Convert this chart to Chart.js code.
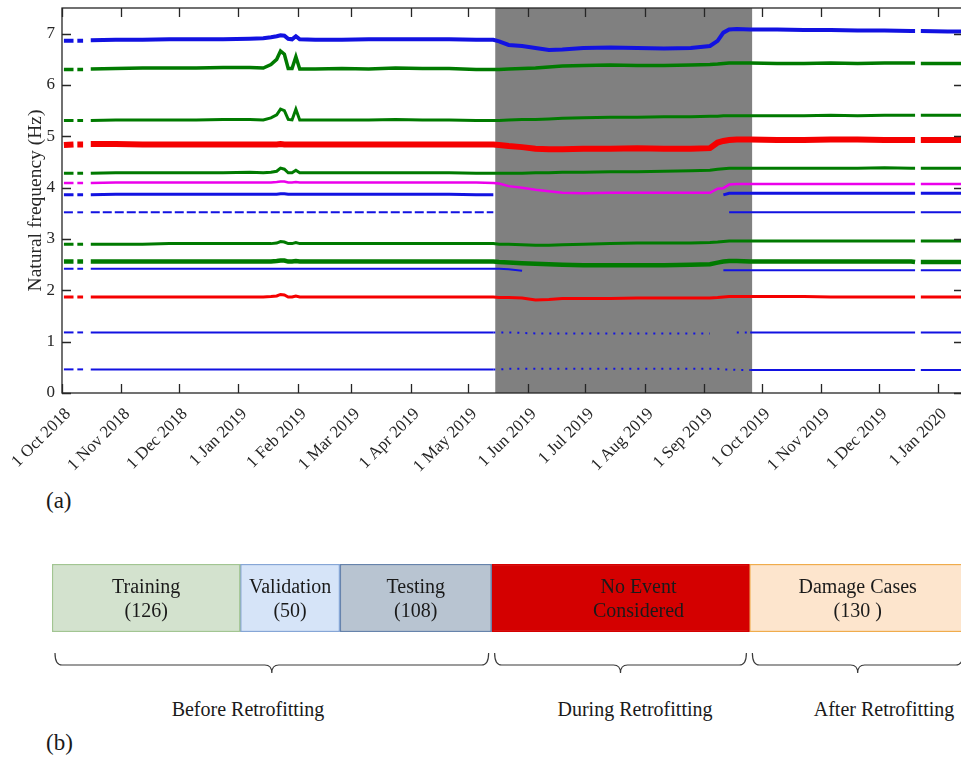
<!DOCTYPE html>
<html><head><meta charset="utf-8">
<script src="https://cdn.jsdelivr.net/npm/chart.js@4.4.1/dist/chart.umd.min.js"></script>
<style>
html,body{margin:0;padding:0;background:#fff;overflow:hidden;width:961px;height:757px;position:relative;}
#cA{position:absolute;left:0;top:0;}
#cB{position:absolute;left:0;top:560px;}
.lbl{position:absolute;font-family:"Liberation Serif","Times New Roman",serif;color:#1a1a1a;white-space:nowrap;line-height:1;}
.ph{font-size:20px;transform:translateX(-50%);top:699px;}
</style></head><body>
<canvas id="cA" width="966" height="482"></canvas>
<canvas id="cB" width="966" height="120"></canvas>
<div class="lbl" style="left:46px;top:489px;font-size:23px">(a)</div>
<div class="lbl" style="left:46px;top:731px;font-size:23px">(b)</div>
<div class="lbl ph" style="left:248px">Before Retrofitting</div>
<div class="lbl ph" style="left:635px">During Retrofitting</div>
<div class="lbl ph" style="left:884px">After Retrofitting</div>
<script>
// ---------- data: part (a) ----------
const sampleDates = ['2018-10-02','2018-10-07','2018-10-08','2018-10-09','2018-10-12','2018-10-13','2018-10-16',
 '2018-10-29','2018-11-12','2018-11-26','2018-12-10','2018-12-24','2019-01-07','2019-01-14',
 '2019-01-18','2019-01-21','2019-01-23','2019-01-25','2019-01-27','2019-01-29','2019-01-31','2019-02-02',
 '2019-02-10','2019-02-24','2019-03-10','2019-03-24','2019-04-07','2019-04-21','2019-05-05','2019-05-14',
 '2019-05-17','2019-05-22','2019-05-29','2019-06-05','2019-06-12','2019-06-19','2019-06-30','2019-07-14','2019-07-28','2019-08-11','2019-08-25',
 '2019-09-04','2019-09-08','2019-09-11','2019-09-14','2019-09-18','2019-09-25',
 '2019-10-09','2019-10-23','2019-11-06','2019-11-20','2019-12-04','2019-12-18','2019-12-20','2019-12-21','2019-12-23','2020-01-06','2020-01-13'];

const blueTop = [6.86,6.86,null,6.86,6.86,null,6.87, 6.88,6.88,6.89,6.89,6.89,6.90,6.91, 6.93,6.95,6.97,6.96,6.90,6.89,6.95,6.89, 6.88,6.88,6.89,6.89,6.89,6.89,6.88,6.88, 6.85,6.78,6.76,6.72,6.68,6.69,6.72,6.73,6.72,6.71,6.72, 6.76,6.86,7.02,7.08,7.09,7.08, 7.08,7.07,7.07,7.06,7.06,7.05,7.05,null,7.05,7.04,7.04];
const green63 = [6.30,6.30,null,6.30,6.30,null,6.31, 6.32,6.33,6.33,6.33,6.34,6.34,6.33, 6.40,6.50,6.66,6.60,6.32,6.32,6.55,6.31, 6.31,6.32,6.31,6.33,6.32,6.32,6.30,6.30, 6.30,6.31,6.32,6.33,6.35,6.37,6.38,6.39,6.38,6.38,6.39, 6.40,6.41,6.42,6.43,6.43,6.43, 6.42,6.42,6.43,6.42,6.43,6.43,6.43,null,6.42,6.42,6.42];
const green53 = [5.31,5.31,null,5.31,5.31,null,5.31, 5.32,5.32,5.32,5.32,5.33,5.33,5.32, 5.36,5.42,5.53,5.50,5.33,5.32,5.53,5.32, 5.32,5.32,5.32,5.33,5.32,5.32,5.31,5.31, 5.31,5.32,5.33,5.33,5.34,5.35,5.36,5.37,5.37,5.38,5.38, 5.39,5.39,5.40,5.40,5.40,5.40, 5.40,5.40,5.41,5.40,5.41,5.41,5.41,null,5.41,5.41,5.41];
const red48 = [4.83,4.84,null,4.84,4.84,null,4.85, 4.85,4.84,4.84,4.84,4.84,4.84,4.84, 4.84,4.84,4.85,4.84,4.84,4.84,4.84,4.84, 4.84,4.84,4.84,4.84,4.84,4.84,4.84,4.84, 4.83,4.81,4.79,4.76,4.75,4.75,4.76,4.76,4.77,4.76,4.76, 4.77,4.88,4.91,4.93,4.94,4.94, 4.93,4.93,4.94,4.94,4.93,4.93,4.93,null,4.93,4.93,4.93];
const green43 = [4.28,4.28,null,4.28,4.28,null,4.28, 4.29,4.29,4.29,4.29,4.29,4.30,4.29, 4.30,4.32,4.38,4.36,4.29,4.29,4.34,4.29, 4.29,4.29,4.29,4.29,4.29,4.29,4.28,4.28, 4.28,4.28,4.28,4.29,4.29,4.30,4.30,4.31,4.31,4.32,4.33, 4.34,4.36,4.37,4.38,4.38,4.38, 4.38,4.38,4.38,4.38,4.39,4.38,4.38,null,4.38,4.38,4.38];
const magenta41 = [4.09,4.09,null,4.09,4.09,null,4.09, 4.10,4.10,4.10,4.10,4.10,4.10,4.10, 4.10,4.11,4.12,4.12,4.10,4.10,4.11,4.10, 4.10,4.10,4.10,4.10,4.10,4.10,4.10,4.09, 4.08,4.03,4.00,3.96,3.93,3.90,3.89,3.90,3.90,3.90,3.90, 3.90,3.98,3.99,4.06,4.07,4.07, 4.07,4.07,4.07,4.07,4.07,4.07,4.07,null,4.07,4.07,4.07];
const blue39 = [3.86,3.86,null,3.86,3.86,null,3.86, 3.87,3.87,3.87,3.87,3.87,3.87,3.87, 3.87,3.87,3.88,3.88,3.87,3.87,3.87,3.87, 3.87,3.87,3.87,3.87,3.87,3.87,3.86,3.86, null,null,null,null,null,null,null,null,null,null,null, null,null,3.86,3.89,3.89,3.89, 3.89,3.89,3.89,3.89,3.89,3.89,3.89,null,3.89,3.89,3.89];
const blue35 = [3.52,3.52,null,3.52,3.52,null,3.52, 3.52,3.52,3.52,3.52,3.52,3.52,3.52, 3.52,3.52,3.52,3.52,3.52,3.52,3.52,3.52, 3.52,3.52,3.52,3.52,3.52,3.52,3.52,3.52, null,null,null,null,null,null,null,null,null,null,null, null,null,null,3.52,3.52,3.52, 3.52,3.52,3.52,3.52,3.52,3.52,3.52,null,3.52,3.52,3.52];
const green29 = [2.90,2.90,null,2.90,2.90,null,2.90, 2.90,2.90,2.91,2.91,2.91,2.91,2.91, 2.91,2.92,2.95,2.94,2.91,2.91,2.93,2.91, 2.91,2.91,2.91,2.91,2.91,2.91,2.91,2.91, 2.90,2.90,2.89,2.88,2.88,2.89,2.90,2.91,2.92,2.92,2.92, 2.93,2.94,2.95,2.96,2.96,2.96, 2.96,2.96,2.96,2.96,2.96,2.96,2.96,null,2.96,2.96,2.96];
const green26 = [2.56,2.56,null,2.56,2.56,null,2.56, 2.56,2.56,2.56,2.56,2.56,2.56,2.56, 2.56,2.57,2.58,2.58,2.56,2.56,2.57,2.56, 2.56,2.56,2.56,2.56,2.56,2.56,2.56,2.56, 2.55,2.54,2.53,2.52,2.51,2.50,2.49,2.49,2.49,2.49,2.50, 2.51,2.54,2.56,2.57,2.57,2.56, 2.56,2.56,2.56,2.56,2.56,2.56,2.55,null,2.55,2.55,2.55];
const blue24 = [2.42,2.42,null,2.42,2.42,null,2.42, 2.42,2.42,2.42,2.42,2.42,2.42,2.42, 2.42,2.42,2.42,2.42,2.42,2.42,2.42,2.42, 2.42,2.42,2.42,2.42,2.42,2.42,2.42,2.42, 2.42,2.41,2.38,null,null,null,null,null,null,null,null, null,null,2.39,2.39,2.39,2.39, 2.39,2.39,2.39,2.39,2.39,2.39,2.39,null,2.39,2.39,2.39];
const red19 = [1.87,1.87,null,1.87,1.87,null,1.87, 1.87,1.87,1.87,1.87,1.87,1.87,1.87, 1.88,1.89,1.92,1.91,1.87,1.87,1.89,1.87, 1.87,1.87,1.87,1.87,1.87,1.87,1.87,1.87, 1.86,1.86,1.85,1.81,1.82,1.84,1.84,1.84,1.85,1.85,1.85, 1.85,1.86,1.87,1.88,1.88,1.88, 1.88,1.88,1.87,1.87,1.87,1.87,1.87,null,1.87,1.87,1.87];
const blue12 = [1.18,1.18,null,1.18,1.18,null,1.18, 1.18,1.18,1.18,1.18,1.18,1.18,1.18, 1.18,1.18,1.18,1.18,1.18,1.18,1.18,1.18, 1.18,1.18,1.18,1.18,1.18,1.18,1.18,1.18, 1.18,1.18,1.17,1.16,1.16,1.16,1.16,1.16,1.16,1.16,1.16, 1.16,null,null,null,1.18,1.18, 1.18,1.18,1.18,1.18,1.18,1.18,1.18,null,1.18,1.18,1.18];
const blue05 = [0.46,0.46,null,0.46,0.46,null,0.46, 0.46,0.46,0.46,0.46,0.46,0.46,0.46, 0.46,0.46,0.46,0.46,0.46,0.46,0.46,0.46, 0.46,0.46,0.46,0.46,0.46,0.46,0.46,0.46, 0.46,0.47,0.47,0.47,0.47,0.47,0.47,0.47,0.47,0.47,0.47, 0.47,0.47,0.46,0.46,0.45,0.45, 0.45,0.45,0.45,0.45,0.45,0.45,0.45,null,0.45,0.45,0.45];

const tickDates = ['2018-10-01','2018-11-01','2018-12-01','2019-01-01','2019-02-01','2019-03-01','2019-04-01','2019-05-01',
 '2019-06-01','2019-07-01','2019-08-01','2019-09-01','2019-10-01','2019-11-01','2019-12-01','2020-01-01'];
const tickLabels = ['1 Oct 2018','1 Nov 2018','1 Dec 2018','1 Jan 2019','1 Feb 2019','1 Mar 2019','1 Apr 2019','1 May 2019',
 '1 Jun 2019','1 Jul 2019','1 Aug 2019','1 Sep 2019','1 Oct 2019','1 Nov 2019','1 Dec 2019','1 Jan 2020'];
const yTicks = [0,1,2,3,4,5,6,7];
const axisStart = '2018-10-01', axisEnd = '2020-01-14';
const retrofitStart = '2019-05-15', retrofitEnd = '2019-09-26';

// ---------- data: part (b) ----------
const segLabels = [['Training','(126)'],['Validation','(50)'],['Testing','(108)'],['No Event','Considered'],['Damage Cases','(130 )']];
const segBounds = [0, 20.6, 31.5, 48.1, 76.3, 100];
const phaseEdges = [0, 3, 4, 5]; // indices into segBounds

// ---------- helpers ----------
function dayOf(s){const [y,m,d]=s.split('-').map(Number);return (Date.UTC(y,m-1,d)-Date.UTC(2018,9,1))/86400000;}
const X = sampleDates.map(dayOf);
const serif = '"Liberation Serif","Times New Roman",serif';
const ink = '#262626';
const BLUE='rgb(18,18,225)', GREEN='rgb(0,122,0)', RED='rgb(245,0,0)', MAG='rgb(235,0,235)';
const rs = dayOf(retrofitStart), re = dayOf(retrofitEnd);

function mk(vals,color,w,dashMode){
  const ds={data:vals.map((v,i)=>({x:X[i],y:v})),borderColor:color,backgroundColor:color,borderWidth:w,pointRadius:0,spanGaps:false,tension:0};
  if(dashMode==='gray') ds.segment={borderDash:c=>(c.p0.parsed.x>=rs-1&&c.p1.parsed.x<=re+1)?[2,6]:undefined};
  if(dashMode==='before') ds.segment={borderDash:c=>(c.p1.parsed.x<=rs)?[9,3]:undefined};
  return ds;
}
const datasets=[
  mk(blueTop,BLUE,4), mk(green63,GREEN,3.5), mk(green53,GREEN,3), mk(red48,RED,6), mk(green43,GREEN,3),
  mk(magenta41,MAG,2.5), mk(blue39,BLUE,3), mk(blue35,BLUE,2,'before'), mk(green29,GREEN,3), mk(green26,GREEN,4.5),
  mk(blue24,BLUE,2), mk(red19,RED,3), mk(blue12,BLUE,2,'gray'), mk(blue05,BLUE,2,'gray')
];

const framePlugin={id:'frame',
  beforeDatasetsDraw(chart){const {ctx,chartArea:a,scales:{x}}=chart;const x0=x.getPixelForValue(rs),x1=x.getPixelForValue(re);
    ctx.save();ctx.fillStyle='#808080';ctx.fillRect(x0,a.top,x1-x0,a.bottom-a.top);ctx.restore();},
  afterDatasetsDraw(chart){const {ctx,chartArea:a,scales:{x,y}}=chart;ctx.save();ctx.strokeStyle=ink;ctx.lineWidth=1.3;
    ctx.strokeRect(a.left,a.top,a.right-a.left,a.bottom-a.top);ctx.beginPath();
    x.ticks.forEach(t=>{const p=Math.round(x.getPixelForValue(t.value))+0.5;ctx.moveTo(p,a.bottom);ctx.lineTo(p,a.bottom-9);ctx.moveTo(p,a.top);ctx.lineTo(p,a.top+9);});
    y.ticks.forEach(t=>{const p=Math.round(y.getPixelForValue(t.value))+0.5;ctx.moveTo(a.left,p);ctx.lineTo(a.left+9,p);ctx.moveTo(a.right,p);ctx.lineTo(a.right-9,p);});
    ctx.stroke();ctx.restore();}
};

new Chart(document.getElementById('cA'),{type:'line',data:{datasets},
  options:{responsive:false,animation:false,events:[],
    layout:{padding:{top:8,right:3,left:0,bottom:0}},
    plugins:{legend:{display:false},tooltip:{enabled:false}},
    scales:{
      x:{type:'linear',min:0,max:dayOf(axisEnd),
        grid:{display:false,drawTicks:false},border:{display:false},
        afterBuildTicks:s=>{s.ticks=tickDates.map(d=>({value:dayOf(d)}));},
        afterFit:s=>{s.height=89;s.paddingLeft=0;s.paddingRight=0;},
        ticks:{autoSkip:false,minRotation:45,maxRotation:45,padding:11,labelOffset:6,color:ink,font:{family:serif,size:17},
          callback:(v,i)=>tickLabels[i]}},
      y:{type:'linear',min:0,max:7.5,
        grid:{display:false,drawTicks:false},border:{display:false},
        afterBuildTicks:s=>{s.ticks=yTicks.map(v=>({value:v}));},
        afterFit:s=>{s.width=62;s.paddingTop=0;s.paddingBottom=0;},
        ticks:{padding:7,color:ink,font:{family:serif,size:17}},
        title:{display:true,text:'Natural frequency (Hz)',color:ink,font:{family:serif,size:19.5},padding:{top:24,bottom:0}}}
    }},
  plugins:[framePlugin]});

// ---------- part (b) ----------
const segFill=['#d3e2ce','#d6e4f8','#b8c4d1','#d40000','#fde5cd'];
const segLine=['#a2c592','#86a6d6','#6683ab','#d40000','#f0ac4c'];
const dsB=segLabels.map((l,i)=>({label:l.join(' '),data:[[segBounds[i],segBounds[i+1]]],backgroundColor:segFill[i],borderColor:segLine[i],
  borderWidth:1.5,borderSkipped:false,grouped:false,barPercentage:1,categoryPercentage:1}));

const boxPlugin={id:'boxes',
  afterDatasetsDraw(chart,args,opts){const {ctx,chartArea:a,scales:{x}}=chart;ctx.save();
    ctx.font='20px '+serif;ctx.textAlign='center';ctx.textBaseline='alphabetic';ctx.fillStyle='#1a1a1a';
    chart.data.datasets.forEach((ds,i)=>{const b=chart.getDatasetMeta(i).data[0];const cx=(b.x+b.base)/2+(opts.shift[i]||0);const cy=(a.top+a.bottom)/2;
      ctx.fillText(segLabels[i][0],cx,cy-5);ctx.fillText(segLabels[i][1],cx,cy+19);});
    // braces
    ctx.strokeStyle='#3a3a3a';ctx.lineWidth=1.2;
    const y0=a.bottom+21,y1=a.bottom+33,y2=a.bottom+41,r=7;
    for(let k=0;k<phaseEdges.length-1;k++){
      const xl=x.getPixelForValue(segBounds[phaseEdges[k]])+3,xr=x.getPixelForValue(segBounds[phaseEdges[k+1]])-3,xc=(xl+xr)/2;
      ctx.beginPath();
      ctx.moveTo(xl,y0);ctx.quadraticCurveTo(xl,y1,xl+r,y1);ctx.lineTo(xc-r,y1);ctx.quadraticCurveTo(xc,y1,xc,y2);
      ctx.moveTo(xr,y0);ctx.quadraticCurveTo(xr,y1,xr-r,y1);ctx.lineTo(xc+r,y1);ctx.quadraticCurveTo(xc,y1,xc,y2);
      ctx.stroke();}
    ctx.restore();}
};

new Chart(document.getElementById('cB'),{type:'bar',data:{labels:['timeline'],datasets:dsB},
  options:{indexAxis:'y',responsive:false,animation:false,events:[],
    layout:{padding:{top:4,bottom:48,left:52,right:0}},
    plugins:{legend:{display:false},tooltip:{enabled:false},boxes:{shift:[0,0,0,18,0]}},
    scales:{x:{type:'linear',min:0,max:100,display:false},y:{type:'category',display:false}}},
  plugins:[boxPlugin]});
</script>
</body></html>
